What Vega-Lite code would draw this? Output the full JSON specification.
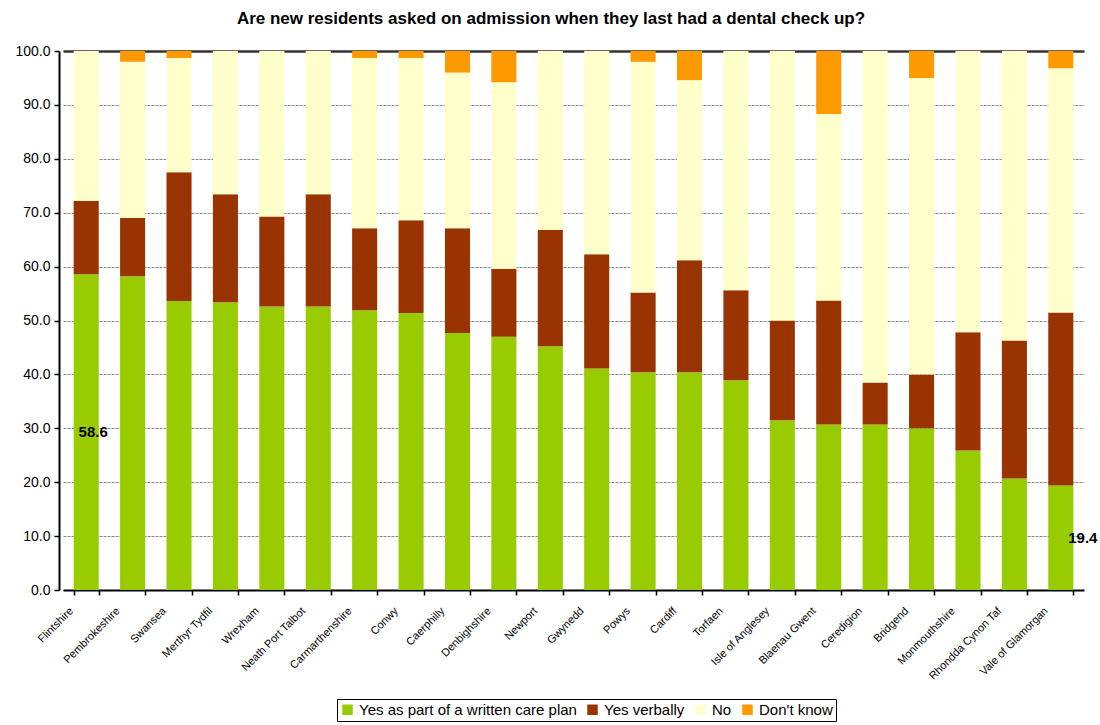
{
  "$schema": "https://vega.github.io/schema/vega-lite/v6.json",
  "width": 1040,
  "height": 539,
  "autosize": {"type": "none"},
  "padding": {"left": 59, "top": 51, "right": 1, "bottom": 135},
  "background": "white",
  "config": {"view": {"stroke": null}, "font": "Liberation Sans"},
  "title": {"text": "Are new residents asked on admission when they last had a dental check up?", "fontSize": 17, "fontWeight": "bold", "color": "black", "anchor": "middle", "offset": 16, "dx": -28},
  "data": {"values": [
    {"area": "Flintshire", "k": 1, "response": "Yes as part of a written care plan", "pct": 58.6},
    {"area": "Flintshire", "k": 2, "response": "Yes verbally", "pct": 13.6},
    {"area": "Flintshire", "k": 3, "response": "No", "pct": 27.8},
    {"area": "Flintshire", "k": 4, "response": "Don't know", "pct": 0},
    {"area": "Pembrokeshire", "k": 1, "response": "Yes as part of a written care plan", "pct": 58.2},
    {"area": "Pembrokeshire", "k": 2, "response": "Yes verbally", "pct": 10.8},
    {"area": "Pembrokeshire", "k": 3, "response": "No", "pct": 29.0},
    {"area": "Pembrokeshire", "k": 4, "response": "Don't know", "pct": 2.0},
    {"area": "Swansea", "k": 1, "response": "Yes as part of a written care plan", "pct": 53.6},
    {"area": "Swansea", "k": 2, "response": "Yes verbally", "pct": 23.9},
    {"area": "Swansea", "k": 3, "response": "No", "pct": 21.2},
    {"area": "Swansea", "k": 4, "response": "Don't know", "pct": 1.3},
    {"area": "Merthyr Tydfil", "k": 1, "response": "Yes as part of a written care plan", "pct": 53.4},
    {"area": "Merthyr Tydfil", "k": 2, "response": "Yes verbally", "pct": 20.0},
    {"area": "Merthyr Tydfil", "k": 3, "response": "No", "pct": 26.6},
    {"area": "Merthyr Tydfil", "k": 4, "response": "Don't know", "pct": 0},
    {"area": "Wrexham", "k": 1, "response": "Yes as part of a written care plan", "pct": 52.6},
    {"area": "Wrexham", "k": 2, "response": "Yes verbally", "pct": 16.7},
    {"area": "Wrexham", "k": 3, "response": "No", "pct": 30.7},
    {"area": "Wrexham", "k": 4, "response": "Don't know", "pct": 0},
    {"area": "Neath Port Talbot", "k": 1, "response": "Yes as part of a written care plan", "pct": 52.6},
    {"area": "Neath Port Talbot", "k": 2, "response": "Yes verbally", "pct": 20.8},
    {"area": "Neath Port Talbot", "k": 3, "response": "No", "pct": 26.6},
    {"area": "Neath Port Talbot", "k": 4, "response": "Don't know", "pct": 0},
    {"area": "Carmarthenshire", "k": 1, "response": "Yes as part of a written care plan", "pct": 51.9},
    {"area": "Carmarthenshire", "k": 2, "response": "Yes verbally", "pct": 15.2},
    {"area": "Carmarthenshire", "k": 3, "response": "No", "pct": 31.6},
    {"area": "Carmarthenshire", "k": 4, "response": "Don't know", "pct": 1.3},
    {"area": "Conwy", "k": 1, "response": "Yes as part of a written care plan", "pct": 51.4},
    {"area": "Conwy", "k": 2, "response": "Yes verbally", "pct": 17.2},
    {"area": "Conwy", "k": 3, "response": "No", "pct": 30.1},
    {"area": "Conwy", "k": 4, "response": "Don't know", "pct": 1.3},
    {"area": "Caerphilly", "k": 1, "response": "Yes as part of a written care plan", "pct": 47.7},
    {"area": "Caerphilly", "k": 2, "response": "Yes verbally", "pct": 19.4},
    {"area": "Caerphilly", "k": 3, "response": "No", "pct": 28.9},
    {"area": "Caerphilly", "k": 4, "response": "Don't know", "pct": 4.0},
    {"area": "Denbighshire", "k": 1, "response": "Yes as part of a written care plan", "pct": 47.0},
    {"area": "Denbighshire", "k": 2, "response": "Yes verbally", "pct": 12.6},
    {"area": "Denbighshire", "k": 3, "response": "No", "pct": 34.6},
    {"area": "Denbighshire", "k": 4, "response": "Don't know", "pct": 5.8},
    {"area": "Newport", "k": 1, "response": "Yes as part of a written care plan", "pct": 45.2},
    {"area": "Newport", "k": 2, "response": "Yes verbally", "pct": 21.6},
    {"area": "Newport", "k": 3, "response": "No", "pct": 33.2},
    {"area": "Newport", "k": 4, "response": "Don't know", "pct": 0},
    {"area": "Gwynedd", "k": 1, "response": "Yes as part of a written care plan", "pct": 41.1},
    {"area": "Gwynedd", "k": 2, "response": "Yes verbally", "pct": 21.2},
    {"area": "Gwynedd", "k": 3, "response": "No", "pct": 37.7},
    {"area": "Gwynedd", "k": 4, "response": "Don't know", "pct": 0},
    {"area": "Powys", "k": 1, "response": "Yes as part of a written care plan", "pct": 40.4},
    {"area": "Powys", "k": 2, "response": "Yes verbally", "pct": 14.8},
    {"area": "Powys", "k": 3, "response": "No", "pct": 42.8},
    {"area": "Powys", "k": 4, "response": "Don't know", "pct": 2.0},
    {"area": "Cardiff", "k": 1, "response": "Yes as part of a written care plan", "pct": 40.4},
    {"area": "Cardiff", "k": 2, "response": "Yes verbally", "pct": 20.8},
    {"area": "Cardiff", "k": 3, "response": "No", "pct": 33.4},
    {"area": "Cardiff", "k": 4, "response": "Don't know", "pct": 5.4},
    {"area": "Torfaen", "k": 1, "response": "Yes as part of a written care plan", "pct": 38.9},
    {"area": "Torfaen", "k": 2, "response": "Yes verbally", "pct": 16.7},
    {"area": "Torfaen", "k": 3, "response": "No", "pct": 44.4},
    {"area": "Torfaen", "k": 4, "response": "Don't know", "pct": 0},
    {"area": "Isle of Anglesey", "k": 1, "response": "Yes as part of a written care plan", "pct": 31.5},
    {"area": "Isle of Anglesey", "k": 2, "response": "Yes verbally", "pct": 18.5},
    {"area": "Isle of Anglesey", "k": 3, "response": "No", "pct": 50.0},
    {"area": "Isle of Anglesey", "k": 4, "response": "Don't know", "pct": 0},
    {"area": "Blaenau Gwent", "k": 1, "response": "Yes as part of a written care plan", "pct": 30.7},
    {"area": "Blaenau Gwent", "k": 2, "response": "Yes verbally", "pct": 23.0},
    {"area": "Blaenau Gwent", "k": 3, "response": "No", "pct": 34.6},
    {"area": "Blaenau Gwent", "k": 4, "response": "Don't know", "pct": 11.7},
    {"area": "Ceredigion", "k": 1, "response": "Yes as part of a written care plan", "pct": 30.7},
    {"area": "Ceredigion", "k": 2, "response": "Yes verbally", "pct": 7.8},
    {"area": "Ceredigion", "k": 3, "response": "No", "pct": 61.5},
    {"area": "Ceredigion", "k": 4, "response": "Don't know", "pct": 0},
    {"area": "Bridgend", "k": 1, "response": "Yes as part of a written care plan", "pct": 30.0},
    {"area": "Bridgend", "k": 2, "response": "Yes verbally", "pct": 10.0},
    {"area": "Bridgend", "k": 3, "response": "No", "pct": 55.0},
    {"area": "Bridgend", "k": 4, "response": "Don't know", "pct": 5.0},
    {"area": "Monmouthshire", "k": 1, "response": "Yes as part of a written care plan", "pct": 25.9},
    {"area": "Monmouthshire", "k": 2, "response": "Yes verbally", "pct": 21.9},
    {"area": "Monmouthshire", "k": 3, "response": "No", "pct": 52.2},
    {"area": "Monmouthshire", "k": 4, "response": "Don't know", "pct": 0},
    {"area": "Rhondda Cynon Taf", "k": 1, "response": "Yes as part of a written care plan", "pct": 20.7},
    {"area": "Rhondda Cynon Taf", "k": 2, "response": "Yes verbally", "pct": 25.6},
    {"area": "Rhondda Cynon Taf", "k": 3, "response": "No", "pct": 53.7},
    {"area": "Rhondda Cynon Taf", "k": 4, "response": "Don't know", "pct": 0},
    {"area": "Vale of Glamorgan", "k": 1, "response": "Yes as part of a written care plan", "pct": 19.4},
    {"area": "Vale of Glamorgan", "k": 2, "response": "Yes verbally", "pct": 32.1},
    {"area": "Vale of Glamorgan", "k": 3, "response": "No", "pct": 45.3},
    {"area": "Vale of Glamorgan", "k": 4, "response": "Don't know", "pct": 3.2}
  ]},
  "layer": [
    {
      "mark": {"type": "bar"},
      "encoding": {
        "x": {
          "field": "area", "type": "nominal", "sort": null,
          "scale": {"range": [4, 1025], "paddingInner": 0.46, "paddingOuter": 0.23},
          "axis": {
            "title": null, "labelAngle": -45, "labelAlign": "right", "labelBaseline": "middle",
            "labelFontSize": 11, "labelColor": "black", "labelOffset": -15, "labelPadding": 14,
            "labelOverlap": false, "labelBound": false,
            "tickBand": "extent", "tickColor": "black", "tickSize": 5, "tickWidth": 1.5,
            "domainColor": "black", "domainWidth": 2, "grid": false,
            "labelExpr": "indexof(['Pembrokeshire','Merthyr Tydfil','Neath Port Talbot','Carmarthenshire','Denbighshire','Isle of Anglesey','Blaenau Gwent','Monmouthshire','Rhondda Cynon Taf','Vale of Glamorgan'], datum.label) >= 0 ? datum.label + '\u00a0\u00a0\u00a0\u00a0' : datum.label"
          }
        },
        "y": {
          "field": "pct", "type": "quantitative", "stack": "zero",
          "scale": {"domain": [0, 100], "nice": false},
          "axis": {
            "title": null, "values": [0, 10, 20, 30, 40, 50, 60, 70, 80, 90, 100], "format": ".1f",
            "labelFontSize": 14, "labelColor": "black", "labelPadding": 4,
            "tickColor": "black", "tickSize": 5, "tickWidth": 1.5,
            "domainColor": "black", "domainWidth": 2,
            "gridColor": {"condition": {"test": "datum.value === 100", "value": "#3a3030"}, "value": "#8a8a8a"},
            "gridDash": {"condition": {"test": "datum.value === 100", "value": []}, "value": [3, 1]},
            "gridWidth": {"condition": {"test": "datum.value === 100", "value": 2.5}, "value": 1}
          }
        },
        "order": {"field": "k", "type": "quantitative"},
        "color": {
          "field": "response", "type": "nominal",
          "scale": {
            "domain": ["Yes as part of a written care plan", "Yes verbally", "No", "Don't know"],
            "range": ["#99CC00", "#993300", "#FFFFCC", "#FF9900"]
          },
          "legend": {
            "orient": "none", "legendX": 278, "legendY": 648, "direction": "horizontal", "columns": 4,
            "title": null, "symbolType": "square", "symbolSize": 110, "symbolStrokeWidth": 0,
            "labelFontSize": 15, "labelColor": "black", "labelLimit": 0, "strokeColor": "black",
            "padding": 3, "columnPadding": 8, "labelOffset": 4
          }
        }
      }
    },
    {
      "transform": [{"filter": "datum.area === 'Flintshire' && datum.k === 1"}],
      "mark": {"type": "text", "fontWeight": "bold", "fontSize": 15, "color": "black", "dx": 7, "baseline": "middle"},
      "encoding": {
        "x": {"field": "area", "type": "nominal", "sort": null},
        "y": {"field": "pct", "type": "quantitative", "scale": {"domain": [0, 200], "nice": false}, "axis": null},
        "text": {"field": "pct", "type": "quantitative", "format": ".1f"}
      }
    },
    {
      "transform": [{"filter": "datum.area === 'Vale of Glamorgan' && datum.k === 1"}],
      "mark": {"type": "text", "fontWeight": "bold", "fontSize": 15, "color": "black", "dx": 22, "baseline": "middle"},
      "encoding": {
        "x": {"field": "area", "type": "nominal", "sort": null},
        "y": {"field": "pct", "type": "quantitative", "scale": {"domain": [0, 200], "nice": false}, "axis": null},
        "text": {"field": "pct", "type": "quantitative", "format": ".1f"}
      }
    }
  ],
  "resolve": {"scale": {"y": "independent"}}
}
